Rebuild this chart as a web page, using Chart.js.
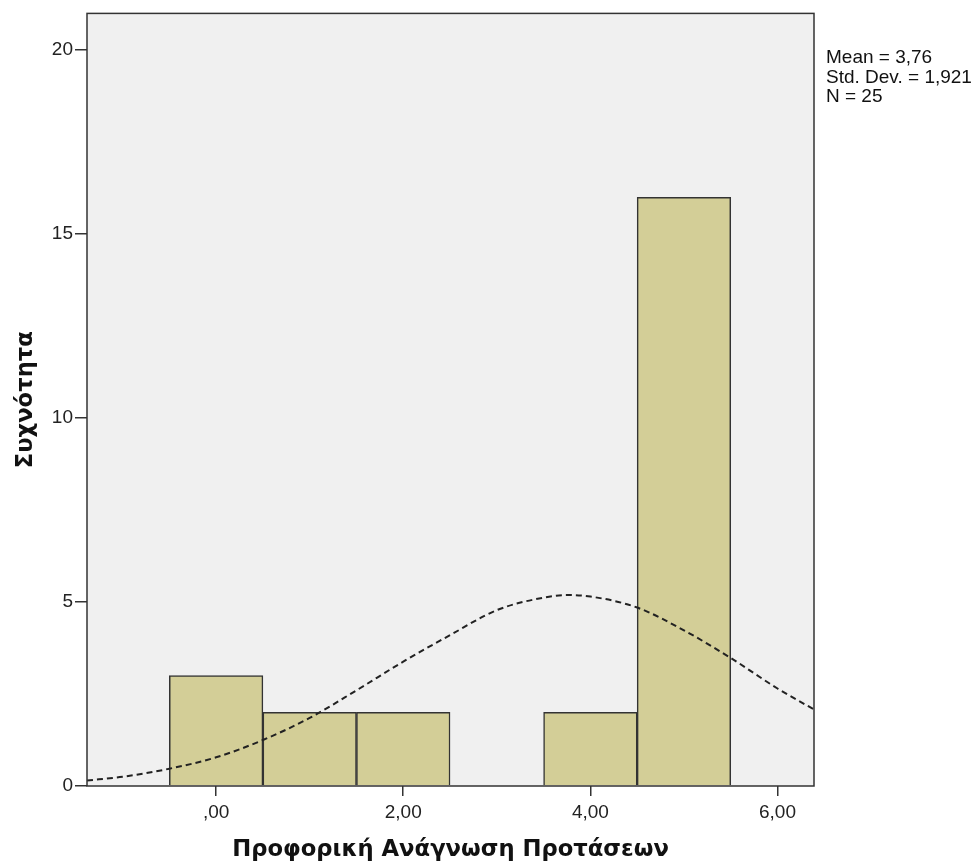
<!DOCTYPE html>
<html lang="el">
<head>
    <meta charset="UTF-8">
    <title>Προφορική Ανάγνωση Προτάσεων</title>
    <script src="https://cdn.jsdelivr.net/npm/chart.js"></script>
    <style>
        html, body {
            margin: 0;
            padding: 0;
            background: #ffffff;
        }
        #wrap {
            width: 979px;
            height: 868px;
        }
    </style>
</head>
<body>
<div id="wrap"><canvas id="histChart"></canvas></div>
<script>
// bins (centre of each bar) and counts
const binCenters = [0, 1, 2, 3, 4, 5];
const counts = [3, 2, 2, 0, 2, 16];

// normal curve
const curveX = [-1.38, -1.0, -0.5, 0, 0.5, 1.0, 1.5, 2.0, 2.5, 3.0, 3.5, 3.76, 4.0, 4.5, 5.0, 5.5, 6.0, 6.39];
const curveY = [0.15, 0.25, 0.47, 0.78, 1.25, 1.85, 2.6, 3.38, 4.1, 4.78, 5.12, 5.19, 5.15, 4.85, 4.23, 3.48, 2.65, 2.08];

const xTicks = [0, 2, 4, 6];
const xTickLabels = [',00', '2,00', '4,00', '6,00'];
const yTicks = [0, 5, 10, 15, 20];

const statsLines = ['Mean = 3,76', 'Std. Dev. = 1,921', 'N = 25'];

const frame = {
    id: 'frame',
    beforeDraw(chart) {
        const a = chart.chartArea;
        const c = chart.ctx;
        c.save();
        c.fillStyle = '#f0f0f0';
        c.fillRect(a.left, a.top, a.right - a.left, a.bottom - a.top);
        c.restore();
    },
    afterDraw(chart) {
        const a = chart.chartArea;
        const c = chart.ctx;
        c.save();
        c.strokeStyle = '#333';
        c.lineWidth = 1.5;
        c.strokeRect(a.left, a.top, a.right - a.left, a.bottom - a.top);
        c.fillStyle = '#111';
        c.font = '19px "Liberation Sans", Arial, sans-serif';
        c.textBaseline = 'middle';
        statsLines.forEach((t, i) => c.fillText(t, a.right + 12, 58 + i * 19.5));
        c.restore();
    }
};

new Chart(document.getElementById('histChart'), {
    data: {
        datasets: [{
            type: 'line',
            data: curveX.map((x, i) => ({x: x, y: curveY[i]})),
            borderColor: '#222',
            borderWidth: 2,
            borderDash: [6, 4],
            pointRadius: 0,
            cubicInterpolationMode: 'monotone',
            fill: false,
            order: 0
        }, {
            type: 'bar',
            data: binCenters.map((x, i) => ({x: x, y: counts[i]})),
            backgroundColor: '#d3ce97',
            borderColor: '#333',
            borderWidth: 1.5,
            barPercentage: 1,
            categoryPercentage: 1,
            order: 1
        }]
    },
    options: {
        responsive: true,
        maintainAspectRatio: false,
        animation: false,
        layout: {padding: {left: 0, right: 165, top: 10, bottom: 0}},
        plugins: {
            legend: {display: false},
            tooltip: {enabled: false}
        },
        scales: {
            x: {
                type: 'linear',
                min: -1.38,
                max: 6.39,
                offset: false,
                afterBuildTicks: s => { s.ticks = xTicks.map(v => ({value: v})); },
                afterFit: s => { s.height = 82; },
                grid: {offset: false, drawOnChartArea: false, drawTicks: true, tickLength: 10, color: '#333', lineWidth: 1.5},
                border: {display: false},
                ticks: {
                    color: '#222',
                    padding: 5,
                    font: {family: '"Liberation Sans", Arial, sans-serif', size: 19},
                    callback: v => xTickLabels[xTicks.indexOf(v)]
                },
                title: {
                    display: true,
                    text: 'Προφορική Ανάγνωση Προτάσεων',
                    color: '#111',
                    font: {family: '"DejaVu Sans", sans-serif', size: 22.7, weight: 'bold'},
                    padding: {top: 4}
                }
            },
            y: {
                min: 0,
                max: 21,
                afterBuildTicks: s => { s.ticks = yTicks.map(v => ({value: v})); },
                afterFit: s => { s.width = 87; },
                grid: {drawOnChartArea: false, drawTicks: true, tickLength: 12, color: '#333', lineWidth: 1.5},
                border: {display: false},
                ticks: {
                    color: '#222',
                    padding: 2,
                    font: {family: '"Liberation Sans", Arial, sans-serif', size: 19}
                },
                title: {
                    display: true,
                    text: 'Συχνότητα',
                    color: '#111',
                    font: {family: '"DejaVu Sans", sans-serif', size: 22.7, weight: 'bold'},
                    padding: {top: 12}
                }
            }
        }
    },
    plugins: [frame]
});
</script>
</body>
</html>
